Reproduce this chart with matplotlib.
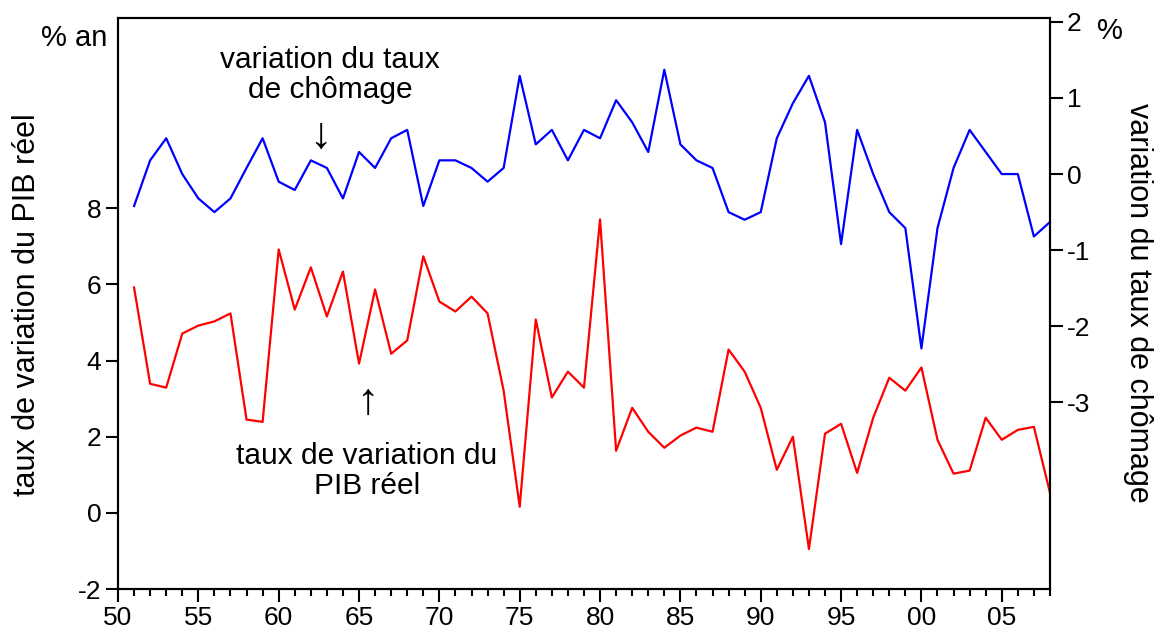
import numpy as np
import matplotlib.pyplot as plt
from matplotlib.ticker import MultipleLocator, FixedLocator

plt.rcParams['font.family'] = ['Liberation Sans', 'DejaVu Sans']
plt.rcParams['axes.unicode_minus'] = False

# data
years = list(range(1951, 2009))

# taux de variation du PIB reel (% an), left axis
pib = [5.92, 3.39, 3.29, 4.71, 4.92, 5.03, 5.24, 2.45, 2.39, 6.92,
       5.34, 6.45, 5.16, 6.34, 3.92, 5.87, 4.18, 4.53, 6.74, 5.55,
       5.29, 5.68, 5.24, 3.21, 0.16, 5.08, 3.03, 3.71, 3.29, 7.71,
       1.63, 2.76, 2.13, 1.71, 2.03, 2.24, 2.13, 4.29, 3.71, 2.76,
       1.13, 2.00, -0.95, 2.08, 2.34, 1.05, 2.50, 3.55, 3.21, 3.82,
       1.92, 1.03, 1.11, 2.50, 1.92, 2.18, 2.26, 0.53]

# variation du taux de chomage (%), right axis
chomage = [-0.42, 0.18, 0.47, 0.0, -0.32, -0.50, -0.32, 0.08, 0.47, -0.10,
           -0.21, 0.18, 0.08, -0.32, 0.29, 0.08, 0.47, 0.58, -0.42, 0.18,
           0.18, 0.08, -0.10, 0.08, 1.29, 0.39, 0.58, 0.18, 0.58, 0.47,
           0.97, 0.68, 0.29, 1.37, 0.39, 0.18, 0.08, -0.50, -0.60, -0.50,
           0.47, 0.93, 1.29, 0.68, -0.92, 0.58, 0.0, -0.50, -0.71, -2.29,
           -0.71, 0.08, 0.58, 0.29, 0.0, 0.0, -0.82, -0.63]

x_major = list(range(1950, 2006, 5))
x_labels = ['%02d' % (y % 100) for y in x_major]
left_ticks = [-2, 0, 2, 4, 6, 8]
right_ticks = [-3, -2, -1, 0, 1, 2]

fig = plt.figure(figsize=(11.58, 6.33), dpi=100)
ax = fig.add_axes([0.1019, 0.0695, 0.8048, 0.9021])
ax2 = ax.twinx()

ax.plot(years, pib, color='#ff0000', lw=1.6)
ax2.plot(years, chomage, color='#0000ff', lw=1.6)

ax.set_xlim(1950, 2008)
ax.set_ylim(-2, 13)
ax2.set_ylim(-5.45, 2.05)

ax.xaxis.set_major_locator(FixedLocator(x_major))
ax.set_xticklabels(x_labels)
ax.xaxis.set_minor_locator(MultipleLocator(1))
ax.set_yticks(left_ticks)
ax2.set_yticks(right_ticks)

for a in (ax, ax2):
    for s in a.spines.values():
        s.set_linewidth(1.5)
ax.tick_params(axis='both', which='major', direction='out', length=9,
               width=1.5, labelsize=19, pad=3)
ax.tick_params(axis='x', which='minor', direction='out', length=5, width=1.5)
ax.tick_params(axis='x', which='major', pad=3)
ax2.tick_params(axis='y', which='major', direction='out', length=9,
                width=1.5, labelsize=19, pad=3)

# axis titles
fig.text(27 / 1158, 1 - 305 / 633, 'taux de variation du PIB réel',
         fontsize=22, rotation=90, ha='center', va='center')
fig.text(1138 / 1158, 1 - 303 / 633, 'variation du taux de chômage',
         fontsize=22, rotation=-90, ha='center', va='center')

fig.text(74 / 1158, 1 - 38 / 633, '% an', fontsize=21, ha='center', va='center')
fig.text(1110 / 1158, 1 - 31 / 633, '%', fontsize=21, ha='center', va='center')

# annotations
ax.text(1963.2, 11.5, 'variation du taux\nde chômage', fontsize=21.5,
        ha='center', va='center', linespacing=1.1)
ax.text(1962.6, 9.9, '↓', fontsize=32, fontweight='bold', ha='center', va='center')
ax.text(1965.5, 2.9, '↑', fontsize=32, fontweight='bold', ha='center', va='center')
ax.text(1965.5, 1.1, 'taux de variation du\nPIB réel', fontsize=21.5,
        ha='center', va='center', linespacing=1.1)

plt.savefig('out.png', dpi=100)
plt.close('all')
